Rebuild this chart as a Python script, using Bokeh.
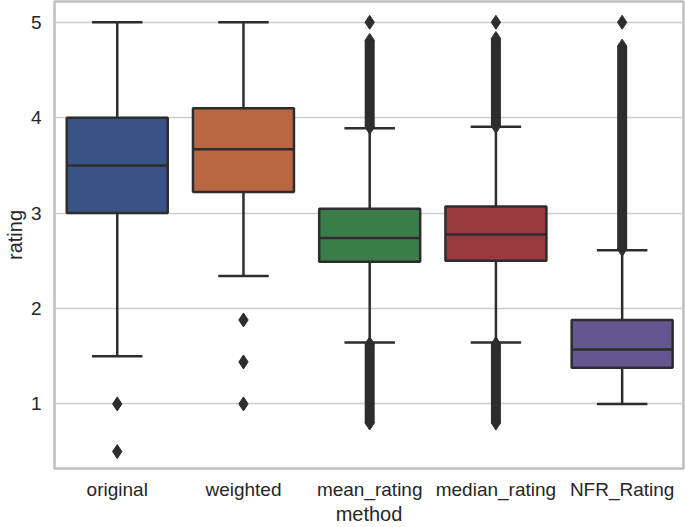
from bokeh.plotting import figure
from bokeh.models import Range1d, FixedTicker, ColumnDataSource
from bokeh.embed import file_html
from bokeh.resources import INLINE

# ---- data ----
methods = ["original", "weighted", "mean_rating", "median_rating", "NFR_Rating"]
box_colors = ["#3a5387", "#b86741", "#3b7d48", "#993a3e", "#62578f"]
q1 = [3.0, 3.22, 2.49, 2.50, 1.38]
medians = [3.5, 3.67, 2.74, 2.775, 1.57]
q3 = [4.0, 4.10, 3.045, 3.07, 1.88]
whisker_low = [1.5, 2.34, 1.645, 1.645, 1.0]
whisker_high = [5.0, 5.0, 3.89, 3.905, 2.61]

# isolated outliers (method index, value)
outlier_method = [0, 0, 1, 1, 1, 2, 3, 4]
outlier_value = [1.0, 0.5, 1.88, 1.44, 1.0, 5.0, 5.0, 5.0]

# dense runs of outliers (method index, lowest, highest)
band_method = [2, 2, 3, 3, 4]
band_low = [3.90, 0.80, 3.91, 0.80, 2.62]
band_high = [4.81, 1.63, 4.83, 1.63, 4.75]

yticks = [1, 2, 3, 4, 5]
x_label = "method"
y_label = "rating"

EDGE = "#2d2d2d"
TEXT = "#262626"
FONT = "Liberation Sans"
BOX_W = 0.8
CAP_W = 0.4

xs = list(range(len(methods)))

p = figure(width=685, height=527, output_backend="svg", toolbar_location=None,
           x_range=Range1d(-0.497, 4.486), y_range=Range1d(0.323, 5.218),
           min_border_left=0, min_border_right=2, min_border_top=1, min_border_bottom=0)

p.background_fill_color = "white"
p.border_fill_color = "white"
p.outline_line_color = "#bfbfbf"
p.outline_line_width = 2.5

p.xgrid.grid_line_color = None
p.ygrid.grid_line_color = "#cccccc"
p.ygrid.grid_line_width = 1.5

for ax in (p.xaxis, p.yaxis):
    ax.axis_line_color = None
    ax.major_tick_line_color = None
    ax.minor_tick_line_color = None
    ax.major_tick_out = 0
    ax.major_tick_in = 0
    ax.minor_tick_out = 0
    ax.minor_tick_in = 0
    ax.major_label_text_font = FONT
    ax.major_label_text_font_size = "19px"
    ax.major_label_text_color = TEXT
    ax.axis_label_text_font = FONT
    ax.axis_label_text_font_size = "20px"
    ax.axis_label_text_font_style = "normal"
    ax.axis_label_text_color = TEXT

p.xaxis.ticker = FixedTicker(ticks=xs)
p.xaxis.major_label_overrides = {i: m for i, m in enumerate(methods)}
p.xaxis.major_label_standoff = 10
p.xaxis.axis_label = x_label
p.xaxis.axis_label_standoff = 0

p.yaxis.ticker = FixedTicker(ticks=yticks)
p.yaxis.major_label_standoff = 13
p.yaxis.axis_label = y_label
p.yaxis.axis_label_standoff = 2

src = ColumnDataSource(dict(
    x=xs,
    left=[x - BOX_W / 2 for x in xs],
    right=[x + BOX_W / 2 for x in xs],
    cl=[x - CAP_W / 2 for x in xs],
    cr=[x + CAP_W / 2 for x in xs],
    q1=q1, q3=q3, med=medians, lo=whisker_low, hi=whisker_high,
    color=box_colors,
))

# whiskers
p.segment(x0="x", y0="lo", x1="x", y1="q1", source=src, line_color=EDGE, line_width=2.5)
p.segment(x0="x", y0="q3", x1="x", y1="hi", source=src, line_color=EDGE, line_width=2.5)
# boxes
p.quad(left="left", right="right", bottom="q1", top="q3", source=src,
       fill_color="color", line_color=EDGE, line_width=2.5)
# medians
p.segment(x0="left", y0="med", x1="right", y1="med", source=src, line_color=EDGE, line_width=2.5)
# caps
p.segment(x0="cl", y0="lo", x1="cr", y1="lo", source=src, line_color=EDGE, line_width=2.5)
p.segment(x0="cl", y0="hi", x1="cr", y1="hi", source=src, line_color=EDGE, line_width=2.5)

# dense outlier runs
bsrc = ColumnDataSource(dict(x=band_method, lo=band_low, hi=band_high))
p.segment(x0="x", y0="lo", x1="x", y1="hi", source=bsrc, line_color=EDGE,
          line_width=10, line_cap="butt")
p.scatter(x="x", y="lo", source=bsrc, marker="diamond", size=14,
          fill_color=EDGE, line_color=EDGE, line_width=1)
p.scatter(x="x", y="hi", source=bsrc, marker="diamond", size=14,
          fill_color=EDGE, line_color=EDGE, line_width=1)

# isolated outliers
osrc = ColumnDataSource(dict(x=outlier_method, y=outlier_value))
p.scatter(x="x", y="y", source=osrc, marker="diamond", size=14,
          fill_color=EDGE, line_color=EDGE, line_width=1)

open("out.html", "w").write(file_html(p, INLINE))
